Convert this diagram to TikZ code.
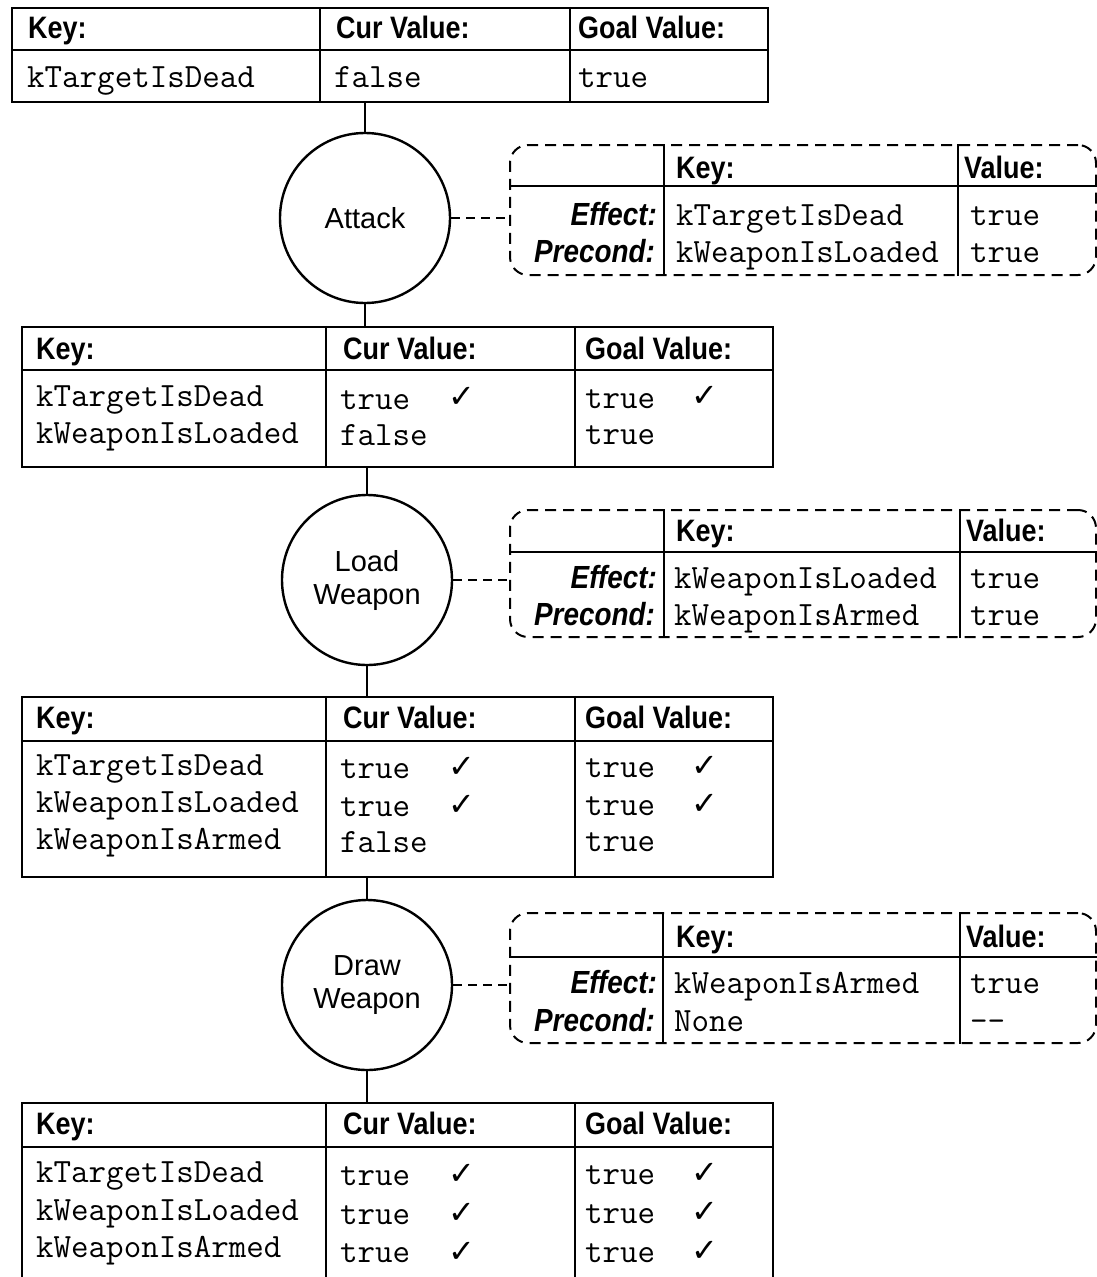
\documentclass[tikz,border=0pt]{standalone}
\usepackage{fontspec}
\setmainfont{Liberation Sans}
\newfontfamily\hdfont[FakeStretch=0.87]{Liberation Sans}
\newfontfamily\tickfont{DejaVu Sans}
\usetikzlibrary{positioning}

\newcommand{\tickmark}{{\tickfont\char"2713}}

\begin{document}
\begin{tikzpicture}[x=1pt,y=-1pt,
    tbl/.style={draw,line width=2.4pt,inner sep=0pt},
    sep/.style={line width=2pt},
    hdline/.style={line width=2.8pt},
    hd/.style={font=\fontsize{31}{36}\hdfont\bfseries,anchor=base west,inner sep=0pt},
    mono/.style={font=\fontsize{34}{40}\selectfont\ttfamily,anchor=base west,inner sep=0pt},
    lbl/.style={font=\fontsize{32}{36}\hdfont\bfseries\itshape,anchor=base east,inner sep=0pt},
    chk/.style={font=\fontsize{32}{36}\selectfont\tickfont\bfseries,anchor=base,inner sep=0pt},
    act/.style={draw,circle,line width=2.4pt,minimum size=170pt,inner sep=0pt,align=center,font=\fontsize{29}{33}\selectfont},
    eff/.style={draw,dash pattern=on 11pt off 7pt,line width=2pt,rounded corners=18pt,inner sep=0pt},
    link/.style={line width=2.4pt},
    dlink/.style={line width=2pt,dash pattern=on 9pt off 6pt}
  ]
    \useasboundingbox (0,0) rectangle (1097,1277);
    \clip (0,0) rectangle (1097,1277);

    % Goal state.
    \node[tbl,minimum width=756pt,minimum height=94pt] (t1) at (390,55) {};
    \draw[hdline] (t1.west |- 0,50) -- (t1.east |- 0,50);
    \draw[sep] (t1.north -| 320,0) -- (t1.south -| 320,0);
    \draw[sep] (t1.north -| 570,0) -- (t1.south -| 570,0);
    \node[hd] (t1k) at (28,38) {Key:};
    \node[hd] (t1c) at (336,38) {Cur Value:};
    \node[hd] (t1g) at (578,38) {Goal Value:};
    \node[mono] (t1r1) at (27,87) {kTargetIsDead};
    \node[mono] (t1r1c) at (334,87) {false};
    \node[mono] (t1r1g) at (578,87) {true};

    % Action: Attack.
    \node[act] (c1) at (365,218) {Attack};
    \node[eff,minimum width=586pt,minimum height=130pt] (b1) at (803,210) {};
    \draw[sep] (b1.west |- 0,186) -- (b1.east |- 0,186);
    \draw[sep] (b1.north -| 664,0) -- (b1.south -| 664,0);
    \draw[sep] (b1.north -| 958,0) -- (b1.south -| 958,0);
    \node[hd] (b1k) at (676,178) {Key:};
    \node[hd] (b1v) at (964,178) {Value:};
    \node[lbl] (b1e) at (657,225) {Effect:};
    \node[lbl] (b1p) at (655,262) {Precond:};
    \node[mono] (b1ek) at (676,225) {kTargetIsDead};
    \node[mono] (b1ev) at (970,225) {true};
    \node[mono] (b1pk) at (676,262) {kWeaponIsLoaded};
    \node[mono] (b1pv) at (970,262) {true};

    % State after Attack.
    \node[tbl,minimum width=751pt,minimum height=140pt] (t2) at (397.5,397) {};
    \draw[hdline] (t2.west |- 0,370) -- (t2.east |- 0,370);
    \draw[sep] (t2.north -| 326,0) -- (t2.south -| 326,0);
    \draw[sep] (t2.north -| 575,0) -- (t2.south -| 575,0);
    \node[hd] (t2k) at (36,359) {Key:};
    \node[hd] (t2c) at (343,359) {Cur Value:};
    \node[hd] (t2g) at (585,359) {Goal Value:};
    \node[mono] (t2r1) at (36,406) {kTargetIsDead};
    \node[mono] (t2r2) at (36,443) {kWeaponIsLoaded};
    \node[mono] (t2r1c) at (340,409) {true};
    \node[mono] (t2r2c) at (340,445) {false};
    \node[mono] (t2r1g) at (585,408) {true};
    \node[mono] (t2r2g) at (585,444) {true};
    \node[chk] (t2x1) at (462,407) {\tickmark};
    \node[chk] (t2y1) at (705,406) {\tickmark};

    % Action: Load Weapon.
    \node[act] (c2) at (367,580) {Load\\Weapon};
    \node[eff,minimum width=586pt,minimum height=127pt] (b2) at (803,573.5) {};
    \draw[sep] (b2.west |- 0,552) -- (b2.east |- 0,552);
    \draw[sep] (b2.north -| 664,0) -- (b2.south -| 664,0);
    \draw[sep] (b2.north -| 960,0) -- (b2.south -| 960,0);
    \node[hd] (b2k) at (676,541) {Key:};
    \node[hd] (b2v) at (966,541) {Value:};
    \node[lbl] (b2e) at (657,588) {Effect:};
    \node[lbl] (b2p) at (655,625) {Precond:};
    \node[mono] (b2ek) at (674,588) {kWeaponIsLoaded};
    \node[mono] (b2ev) at (970,588) {true};
    \node[mono] (b2pk) at (674,625) {kWeaponIsArmed};
    \node[mono] (b2pv) at (970,625) {true};

    % State after Load Weapon.
    \node[tbl,minimum width=751pt,minimum height=180pt] (t3) at (397.5,787) {};
    \draw[hdline] (t3.west |- 0,741) -- (t3.east |- 0,741);
    \draw[sep] (t3.north -| 326,0) -- (t3.south -| 326,0);
    \draw[sep] (t3.north -| 575,0) -- (t3.south -| 575,0);
    \node[hd] (t3k) at (36,728) {Key:};
    \node[hd] (t3c) at (343,728) {Cur Value:};
    \node[hd] (t3g) at (585,728) {Goal Value:};
    \node[mono] (t3r1) at (36,775) {kTargetIsDead};
    \node[mono] (t3r2) at (36,812) {kWeaponIsLoaded};
    \node[mono] (t3r3) at (36,849) {kWeaponIsArmed};
    \node[mono] (t3r1c) at (340,778) {true};
    \node[mono] (t3r2c) at (340,816) {true};
    \node[mono] (t3r3c) at (340,852) {false};
    \node[mono] (t3r1g) at (585,777) {true};
    \node[mono] (t3r2g) at (585,815) {true};
    \node[mono] (t3r3g) at (585,851) {true};
    \node[chk] (t3x1) at (462,777) {\tickmark};
    \node[chk] (t3x2) at (462,815) {\tickmark};
    \node[chk] (t3y1) at (705,776) {\tickmark};
    \node[chk] (t3y2) at (705,814) {\tickmark};

    % Action: Draw Weapon.
    \node[act] (c3) at (367,985) {Draw\\Weapon};
    \node[eff,minimum width=586pt,minimum height=130pt] (b3) at (803,978) {};
    \draw[sep] (b3.west |- 0,957) -- (b3.east |- 0,957);
    \draw[sep] (b3.north -| 663,0) -- (b3.south -| 663,0);
    \draw[sep] (b3.north -| 960,0) -- (b3.south -| 960,0);
    \node[hd] (b3k) at (676,947) {Key:};
    \node[hd] (b3v) at (966,947) {Value:};
    \node[lbl] (b3e) at (657,993) {Effect:};
    \node[lbl] (b3p) at (655,1031) {Precond:};
    \node[mono] (b3ek) at (674,993) {kWeaponIsArmed};
    \node[mono] (b3ev) at (970,993) {true};
    \node[mono] (b3pk) at (674,1031) {None};
    \node[mono] (b3pv) at (970,1031) {-{}-};

    % Final state.
    \node[tbl,minimum width=751pt,minimum height=187pt] (t4) at (397.5,1196.5) {};
    \draw[hdline] (t4.west |- 0,1147) -- (t4.east |- 0,1147);
    \draw[sep] (t4.north -| 326,0) -- (t4.south -| 326,0);
    \draw[sep] (t4.north -| 575,0) -- (t4.south -| 575,0);
    \node[hd] (t4k) at (36,1134) {Key:};
    \node[hd] (t4c) at (343,1134) {Cur Value:};
    \node[hd] (t4g) at (585,1134) {Goal Value:};
    \node[mono] (t4r1) at (36,1182) {kTargetIsDead};
    \node[mono] (t4r2) at (36,1220) {kWeaponIsLoaded};
    \node[mono] (t4r3) at (36,1257) {kWeaponIsArmed};
    \node[mono] (t4r1c) at (340,1185) {true};
    \node[mono] (t4r2c) at (340,1224) {true};
    \node[mono] (t4r3c) at (340,1262) {true};
    \node[mono] (t4r1g) at (585,1184) {true};
    \node[mono] (t4r2g) at (585,1223) {true};
    \node[mono] (t4r3g) at (585,1262) {true};
    \node[chk] (t4x1) at (462,1184) {\tickmark};
    \node[chk] (t4x2) at (462,1223) {\tickmark};
    \node[chk] (t4x3) at (462,1262) {\tickmark};
    \node[chk] (t4y1) at (705,1183) {\tickmark};
    \node[chk] (t4y2) at (705,1222) {\tickmark};
    \node[chk] (t4y3) at (705,1261) {\tickmark};

    % Plan links.
    \draw[link] (t1.south -| c1.north) -- (c1.north);
    \draw[link] (c1.south) -- (t2.north -| c1.south);
    \draw[link] (t2.south -| c2.north) -- (c2.north);
    \draw[link] (c2.south) -- (t3.north -| c2.south);
    \draw[link] (t3.south -| c3.north) -- (c3.north);
    \draw[link] (c3.south) -- (t4.north -| c3.south);
    \draw[dlink] (c1.east) -- (b1.west |- c1.east);
    \draw[dlink] (c2.east) -- (b2.west |- c2.east);
    \draw[dlink] (c3.east) -- (b3.west |- c3.east);
  \end{tikzpicture}
\end{document}
